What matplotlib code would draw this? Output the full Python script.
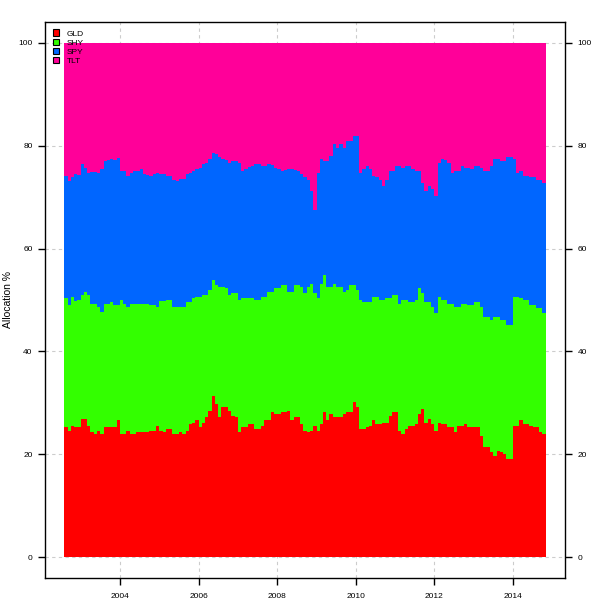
import matplotlib
matplotlib.use("Agg")
import matplotlib.pyplot as plt
from matplotlib.patches import Patch
import numpy as np
import pandas as pd

# ---------------- data (monthly allocation %) ----------------
start_month = "2002-08-01"
assets = ["GLD", "SHY", "SPY", "TLT"]
colors = ["#FF0000", "#33FF00", "#0066FF", "#FF0099"]

gld = [25.3, 24.6, 25.6, 25.3, 25.3, 26.9, 26.9, 25.6, 24.3, 24.0,
       24.6, 24.0, 25.3, 25.3, 25.3, 25.3, 26.6, 24.0, 24.0, 24.6,
       24.0, 24.0, 24.3, 24.3, 24.3, 24.3, 24.6, 24.6, 25.6, 24.6,
       24.3, 24.9, 24.9, 24.0, 24.0, 24.3, 24.0, 24.6, 25.9, 26.2,
       26.6, 25.3, 26.2, 27.2, 28.5, 31.4, 29.8, 27.2, 29.2, 29.2,
       28.5, 27.5, 27.2, 24.3, 25.3, 25.3, 25.9, 25.9, 24.9, 24.9,
       25.6, 26.6, 26.6, 28.2, 27.9, 27.9, 28.2, 28.2, 28.5, 26.6,
       27.2, 27.2, 25.9, 24.6, 24.3, 24.6, 25.6, 24.6, 25.9, 28.2,
       26.6, 27.9, 27.2, 27.2, 27.2, 27.9, 28.2, 28.2, 30.1, 29.2,
       24.9, 24.9, 25.3, 25.6, 26.6, 25.9, 25.9, 26.2, 26.2, 27.5,
       28.2, 28.2, 24.6, 24.0, 24.9, 25.6, 25.6, 25.9, 27.9, 28.8,
       26.2, 26.9, 25.9, 24.6, 26.2, 25.9, 25.9, 25.3, 25.3, 24.3,
       25.6, 25.6, 25.9, 25.3, 25.3, 25.3, 25.3, 23.6, 21.4, 21.4,
       20.4, 19.7, 20.7, 20.4, 20.1, 19.1, 19.1, 25.6, 25.6, 26.6,
       25.9, 25.9, 25.6, 25.3, 25.3, 24.3, 24.0]

shy = [25.0, 24.4, 25.0, 24.6, 24.7, 24.1, 24.7, 25.4, 25.0, 25.3,
       24.1, 23.7, 24.0, 24.0, 24.4, 23.7, 22.4, 26.0, 25.3, 24.1,
       25.3, 25.3, 25.0, 25.0, 25.0, 24.9, 24.4, 24.4, 23.1, 25.3,
       25.6, 25.1, 25.1, 24.7, 24.7, 24.4, 24.7, 25.1, 23.8, 24.1,
       24.0, 25.3, 24.8, 23.8, 23.5, 22.5, 23.1, 25.4, 23.4, 23.1,
       22.5, 23.8, 24.1, 25.7, 25.0, 25.0, 24.4, 24.4, 25.1, 25.1,
       25.0, 24.0, 25.0, 23.4, 24.4, 24.4, 24.7, 24.7, 23.1, 25.0,
       25.7, 25.7, 26.7, 26.7, 28.3, 28.6, 25.7, 25.7, 27.3, 26.7,
       26.0, 24.7, 26.0, 25.4, 25.4, 23.7, 23.7, 24.7, 22.8, 22.7,
       25.1, 24.8, 24.4, 24.1, 24.0, 24.7, 24.1, 23.8, 24.1, 22.8,
       22.8, 22.8, 24.7, 26.0, 25.1, 24.1, 24.1, 24.1, 24.4, 22.5,
       23.5, 22.8, 22.8, 22.8, 24.4, 24.1, 24.1, 24.0, 24.0, 24.4,
       23.1, 23.7, 23.4, 23.7, 23.7, 24.4, 24.4, 25.1, 25.3, 25.3,
       25.7, 27.0, 26.0, 25.7, 26.0, 26.0, 26.0, 25.0, 25.0, 23.7,
       24.1, 24.1, 23.4, 23.7, 23.1, 24.1, 23.4]

spy = [23.8, 24.1, 23.2, 24.5, 24.2, 25.4, 24.1, 23.7, 25.6, 25.6,
       26.0, 27.8, 27.7, 27.8, 27.6, 28.2, 28.5, 25.1, 25.8, 25.4,
       25.4, 25.8, 25.8, 26.1, 25.1, 25.0, 25.1, 25.4, 26.0, 24.6,
       24.5, 24.1, 24.1, 24.6, 24.4, 24.9, 24.9, 24.7, 25.0, 24.8,
       24.9, 25.1, 25.4, 25.7, 25.3, 24.6, 25.4, 25.1, 24.7, 24.9,
       25.7, 25.7, 25.7, 26.7, 24.8, 25.2, 25.6, 25.7, 26.5, 26.4,
       25.4, 25.4, 24.8, 24.6, 23.4, 23.2, 22.2, 22.4, 23.8, 23.8,
       22.4, 22.2, 21.8, 22.5, 20.8, 18.0, 16.2, 24.4, 24.1, 22.1,
       24.4, 25.4, 27.1, 27.0, 27.7, 28.0, 29.0, 28.0, 28.9, 29.9,
       24.7, 25.7, 26.3, 25.7, 23.5, 23.2, 23.4, 22.1, 23.1, 24.8,
       24.1, 25.0, 26.7, 25.7, 26.0, 26.3, 25.7, 25.1, 22.8, 21.5,
       21.5, 22.4, 22.8, 22.8, 26.1, 27.3, 27.2, 27.4, 25.4, 26.4,
       26.4, 26.7, 26.4, 26.7, 26.4, 26.3, 26.3, 27.0, 28.4, 28.4,
       29.9, 30.6, 30.6, 30.9, 30.9, 32.6, 32.6, 26.7, 24.1, 24.8,
       24.1, 24.1, 24.8, 24.8, 25.0, 25.0, 25.4]

tlt = [25.9, 26.9, 26.2, 25.6, 25.8, 23.6, 24.3, 25.3, 25.1, 25.1,
       25.3, 24.5, 23.0, 22.9, 22.7, 22.8, 22.5, 24.9, 24.9, 25.9,
       25.3, 24.9, 24.9, 24.6, 25.6, 25.8, 25.9, 25.6, 25.3, 25.5,
       25.6, 25.9, 25.9, 26.7, 26.9, 26.4, 26.4, 25.6, 25.3, 24.9,
       24.5, 24.3, 23.6, 23.3, 22.7, 21.5, 21.7, 22.3, 22.7, 22.8,
       23.3, 23.0, 23.0, 23.3, 24.9, 24.5, 24.1, 24.0, 23.5, 23.6,
       24.0, 24.0, 23.6, 23.8, 24.3, 24.5, 24.9, 24.7, 24.6, 24.6,
       24.7, 24.9, 25.6, 26.2, 26.6, 28.8, 32.5, 25.3, 22.7, 23.0,
       23.0, 22.0, 19.7, 20.4, 19.7, 20.4, 19.1, 19.1, 18.2, 18.2,
       25.3, 24.6, 24.0, 24.6, 25.9, 26.2, 26.6, 27.9, 26.6, 24.9,
       24.9, 24.0, 24.0, 24.3, 24.0, 24.0, 24.6, 24.9, 24.9, 27.2,
       28.8, 27.9, 28.5, 29.8, 23.3, 22.7, 22.8, 23.3, 25.3, 24.9,
       24.9, 24.0, 24.3, 24.3, 24.6, 24.0, 24.0, 24.3, 24.9, 24.9,
       24.0, 22.7, 22.7, 23.0, 23.0, 22.3, 22.3, 22.7, 25.3, 24.9,
       25.9, 25.9, 26.2, 26.2, 26.6, 26.6, 27.2]

y_ticks = [0, 20, 40, 60, 80, 100]
x_tick_years = [2004, 2006, 2008, 2010, 2012, 2014]
y_label = "Allocation %"

# ---------------- plot ----------------
plt.rcParams["font.family"] = ["Liberation Sans", "DejaVu Sans"]

series = [np.array(s, dtype=float) for s in (gld, shy, spy, tlt)]
n = len(series[0])
edges = pd.date_range(start_month, periods=n + 1, freq="MS")

fig = plt.figure(figsize=(6, 6), dpi=100)
ax = fig.add_axes([45 / 600, 22 / 600, 520 / 600, 556 / 600])

ax.grid(True, color="#CCCCCC", linestyle=(0, (3, 3)), linewidth=0.8)
ax.set_axisbelow(True)

base = np.zeros(n)
for s, c in zip(series, colors):
    top = base + s
    ax.fill_between(edges, np.append(base, base[-1]), np.append(top, top[-1]),
                    step="post", color=c, linewidth=0, zorder=2)
    base = top

x0, x1 = edges[0], edges[-1]
span = x1 - x0
ax.set_xlim(x0 - span * 0.04, x1 + span * 0.04)
ax.set_ylim(-4, 104)

ax.set_yticks(y_ticks)
ax.set_yticklabels([str(v) for v in y_ticks])
ax.set_xticks([pd.Timestamp(f"{y}-01-01") for y in x_tick_years])
ax.set_xticklabels([str(y) for y in x_tick_years])

ax.tick_params(axis="both", which="both", direction="out", length=5, width=1,
               labelsize=6, colors="black")
ax.tick_params(axis="y", right=True, labelright=True, pad=4)
ax.tick_params(axis="x", pad=5.5)

for sp in ax.spines.values():
    sp.set_color("black")
    sp.set_linewidth(1)

ax.set_ylabel(y_label, fontsize=7.5)
ax.yaxis.set_label_coords(-0.062, 0.5)

handles = [Patch(facecolor=c, edgecolor="black", linewidth=0.8) for c in colors]
leg = ax.legend(handles, assets, loc="upper left", frameon=False, fontsize=6,
                handlelength=0.8, handleheight=0.8, handletextpad=0.9,
                labelspacing=0.12, borderaxespad=0.5, borderpad=0.4)
leg.set_zorder(5)

fig.savefig("out.png", dpi=100)
